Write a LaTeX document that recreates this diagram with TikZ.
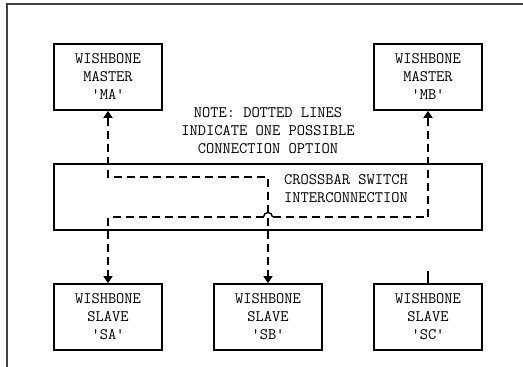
\documentclass[tikz,border=0pt]{standalone}
\usepackage{fontspec}
\usetikzlibrary{arrows.meta}
\tikzset{
  box/.style={draw, line width=1.8pt, minimum width=108pt, minimum height=66pt, inner sep=0pt, font=\ttfamily\fontsize{16}{18}\selectfont, align=center},
  lbl/.style={inner sep=0pt, font=\ttfamily\fontsize{16}{18}\selectfont},
  dashline/.style={line width=1.6pt, dash pattern=on 8pt off 5pt},
  tip/.style={-{Triangle[length=7pt,width=9pt]}},
  frame/.style={draw=black!75, line width=1.2pt}
}
\begin{document}
\begin{tikzpicture}[x=1pt,y=-1pt]
\useasboundingbox (0,0) rectangle (523,367);
\draw[frame] (7,367) -- (7,4) -- (523,4);
\node[box] (MA) at (108,77) {WISHBONE\\MASTER\\'MA'};
\node[box] (MB) at (428,77) {WISHBONE\\MASTER\\'MB'};
\node[box] (SA) at (108,317) {WISHBONE\\SLAVE\\'SA'};
\node[box] (SB) at (268,317) {WISHBONE\\SLAVE\\'SB'};
\node[box] (SC) at (428,317) {WISHBONE\\SLAVE\\'SC'};
\node[draw, line width=1.8pt, minimum width=428pt, minimum height=66pt, inner sep=0pt] (XB) at (268,197) {};
\node[lbl, align=center] (note) at (268,131) {NOTE: DOTTED LINES\\INDICATE ONE POSSIBLE\\CONNECTION OPTION};
\node[lbl, align=left, anchor=west] (xbl) at (284,189) {CROSSBAR SWITCH\\INTERCONNECTION};
\coordinate (p1) at (108,177);
\coordinate (p2) at (268,177);
\coordinate (q1) at (428,217);
\coordinate (j1) at (272.5,217);
\coordinate (j2) at (263.5,217);
\coordinate (q2) at (108,217);
\coordinate (sc1) at (428,271);
% path MA <-> SB
\draw[dashline, {Triangle[length=7pt,width=9pt]}-{Triangle[length=7pt,width=9pt]}] (MA) -- (p1) -- (p2) -- (SB);
% path MB <-> SA
\draw[dashline, {Triangle[length=7pt,width=9pt]}-] (MB) -- (q1) -- (j1);
\draw[line width=1.4pt] (j1) arc[start angle=0, end angle=180, radius=4.5pt];
\draw[dashline, tip] (j2) -- (q2) -- (SA);
\draw[line width=1.6pt] (sc1) -- (SC);
\end{tikzpicture}
\end{document}
